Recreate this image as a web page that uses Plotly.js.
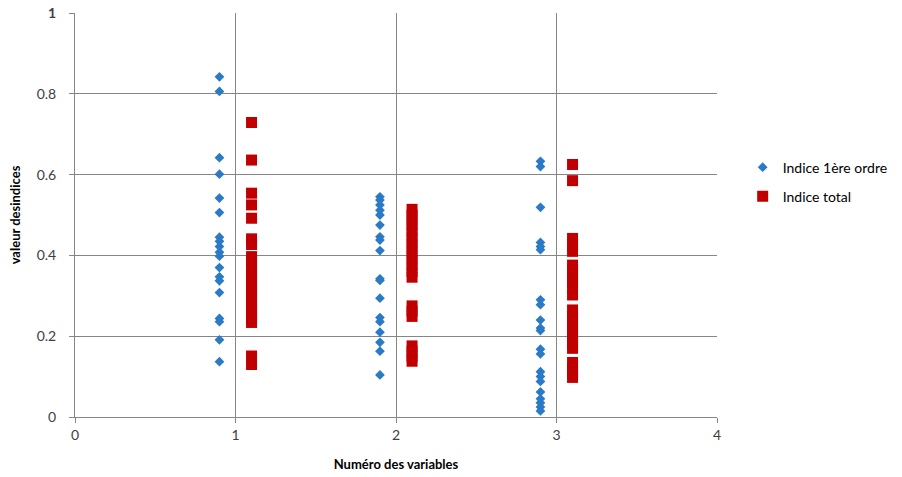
<!DOCTYPE html>
<html>
<head>
<meta charset="utf-8">
<script src="https://cdn.plot.ly/plotly-3.0.1.min.js"></script>
<style>html,body{margin:0;padding:0;background:#fff;}#chart{width:902px;height:477px;}</style>
</head>
<body>
<div id="chart"></div>
<script>
// Variable numbers and the horizontal offset of each series around them
const variables = [1, 2, 3];
const offsetFirst = -0.1;
const offsetTotal = 0.1;

// Indice 1ère ordre (first-order index) per variable
const first1 = [0.842,0.806,0.642,0.601,0.542,0.506,0.445,0.435,0.422,0.408,0.398,0.370,0.347,0.337,0.308,0.244,0.236,0.191,0.137];
const first2 = [0.545,0.537,0.525,0.512,0.500,0.475,0.446,0.438,0.412,0.342,0.338,0.294,0.246,0.236,0.210,0.185,0.163,0.104];
const first3 = [0.633,0.620,0.519,0.432,0.422,0.414,0.290,0.278,0.240,0.220,0.214,0.168,0.156,0.112,0.100,0.088,0.062,0.045,0.035,0.025,0.015];

// Indice total per variable
const total1 = [0.729,0.636,0.554,0.525,0.492,0.441,0.427,0.397,0.383,0.368,0.352,0.339,0.325,0.311,0.298,0.284,0.270,0.258,0.246,0.234,0.151,0.130];
const total2 = [0.514,0.500,0.487,0.473,0.459,0.444,0.430,0.416,0.402,0.388,0.374,0.360,0.346,0.275,0.262,0.249,0.176,0.163,0.150,0.138];
const total3 = [0.625,0.585,0.442,0.426,0.410,0.376,0.362,0.348,0.334,0.320,0.302,0.265,0.250,0.236,0.222,0.208,0.194,0.180,0.170,0.135,0.120,0.108,0.098];

const seriesNames = ['Indice 1ère ordre', 'Indice total'];
const xTicks = [0, 1, 2, 3, 4];
const yTicks = [0, 0.2, 0.4, 0.6, 0.8, 1];
const yTickText = ['0', '0.2', '0.4', '0.6', '0.8', '<b>1</b>'];

function build(groups, offset) {
  const x = [], y = [];
  groups.forEach((g, i) => g.forEach(v => { x.push(variables[i] + offset); y.push(v); }));
  return {x, y};
}
const f = build([first1, first2, first3], offsetFirst);
const t = build([total1, total2, total3], offsetTotal);

const font = 'Lato, "Open Sans", sans-serif';
const data = [
  {x: f.x, y: f.y, type: 'scatter', mode: 'markers', name: seriesNames[0], legendgroup: 'a',
   marker: {symbol: 'diamond', size: 7.5, color: '#2a7ac6'}},
  {x: t.x, y: t.y, type: 'scatter', mode: 'markers', name: seriesNames[1], legendgroup: 'b',
   marker: {symbol: 'square', size: 11, color: '#c00000'}}
];
const layout = {
  width: 902, height: 477,
  margin: {l: 75, r: 185, t: 13, b: 60, autoexpand: false},
  paper_bgcolor: '#fff', plot_bgcolor: '#fff',
  font: {family: font, size: 14, color: '#404040'},
  xaxis: {range: [0, 4], tickvals: xTicks, ticks: 'outside', ticklen: 5, tickcolor: '#868686',
          showgrid: true, gridcolor: '#868686', gridwidth: 1, zeroline: false,
          showline: true, linecolor: '#868686', linewidth: 1, automargin: false,
          tickfont: {size: 14, color: '#404040'},
          title: {text: '<b>Numéro des variables</b>', font: {size: 13, color: '#000'}, standoff: 18}},
  yaxis: {range: [0, 1], tickvals: yTicks, ticktext: yTickText, ticks: 'outside', ticklen: 5, tickcolor: '#868686',
          showgrid: true, gridcolor: '#868686', gridwidth: 1, zeroline: false,
          showline: true, linecolor: '#868686', linewidth: 1, automargin: false,
          ticklabelstandoff: 10,
          tickfont: {size: 14, color: '#404040'},
          title: {text: '<b>valeur desindices</b>', font: {size: 13, color: '#000'}, standoff: 13}},
  legend: {x: 1.04, xanchor: 'left', y: 0.657, yanchor: 'top', traceorder: 'grouped', tracegroupgap: 8,
           font: {size: 14, color: '#000', family: font}, bgcolor: 'rgba(0,0,0,0)'},
  showlegend: true
};
Plotly.newPlot('chart', data, layout, {displayModeBar: false, staticPlot: true});
</script>
</body>
</html>
